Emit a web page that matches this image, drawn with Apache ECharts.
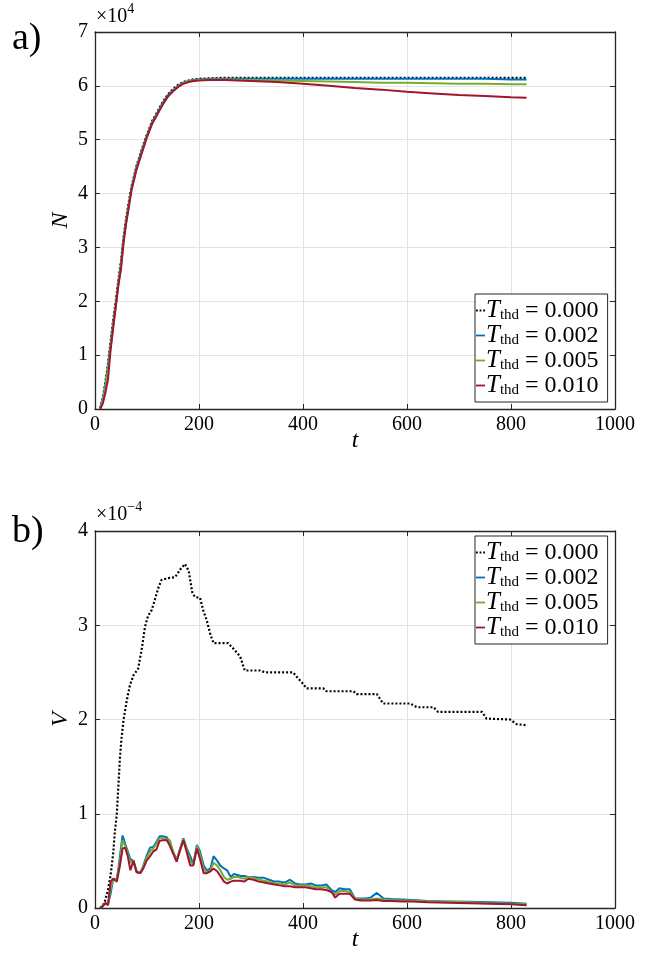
<!DOCTYPE html>
<html>
<head>
<meta charset="utf-8">
<script src="https://cdn.jsdelivr.net/npm/echarts@6/dist/echarts.min.js"></script>
<style>html,body{margin:0;padding:0;background:#fff}#c{width:652px;height:964px}</style>
</head>
<body>
<div id="c"></div>
<script>
// ---------- DATA ----------
const seriesNames = ['0.000', '0.002', '0.005', '0.010'];
const xTicks = [0, 200, 400, 600, 800, 1000];

// Panel a: N (x 10^4) vs t
const tN = [10,15,20,25,30,35,40,45,50,55,60,65,70,80,90,100,110,120,130,140,150,160,170,180,190,200,220,250,300,350,400,450,500,550,600,650,700,750,800,830];
const N0  = [0.02,0.2,0.5,0.85,1.25,1.65,2.0,2.4,2.75,3.2,3.55,3.85,4.12,4.52,4.82,5.1,5.35,5.52,5.7,5.84,5.94,6.02,6.07,6.1,6.12,6.13,6.14,6.15,6.15,6.15,6.15,6.15,6.15,6.15,6.15,6.15,6.15,6.15,6.15,6.15];
const N2  = [0.02,0.18,0.45,0.8,1.2,1.6,1.95,2.35,2.7,3.15,3.5,3.8,4.1,4.5,4.8,5.08,5.33,5.5,5.68,5.82,5.92,6.0,6.06,6.09,6.11,6.12,6.13,6.13,6.13,6.13,6.13,6.13,6.13,6.13,6.13,6.13,6.13,6.13,6.12,6.12];
const N5  = [0.01,0.15,0.4,0.75,1.15,1.55,1.92,2.32,2.65,3.12,3.47,3.78,4.07,4.47,4.77,5.06,5.31,5.48,5.66,5.8,5.9,5.99,6.05,6.08,6.1,6.11,6.12,6.12,6.11,6.1,6.09,6.08,6.07,6.06,6.06,6.05,6.04,6.04,6.03,6.03];
const N10 = [0.0,0.1,0.3,0.55,1.1,1.5,1.9,2.3,2.6,3.1,3.45,3.75,4.05,4.45,4.75,5.05,5.3,5.47,5.65,5.8,5.9,5.98,6.04,6.07,6.09,6.1,6.11,6.11,6.09,6.07,6.04,6.0,5.96,5.93,5.89,5.86,5.83,5.81,5.79,5.78];

// Panel b: V (x 10^-4) vs t
const tV0 = [10,18,25,30,35,38,42,45,48,51,55,61,67,74,83,90,96,102,109,115,122,128,140,154,165,173,180,187,192,202,208,215,222,228,256,268,279,288,317,327,381,390,400,407,439,445,497,503,542,554,606,619,651,660,744,753,798,811,830];
const V0  = [0,0.05,0.19,0.35,0.58,0.8,1.0,1.3,1.6,1.8,2.0,2.2,2.36,2.47,2.54,2.75,2.98,3.1,3.16,3.27,3.4,3.48,3.5,3.51,3.6,3.65,3.58,3.35,3.3,3.29,3.16,3.05,2.9,2.81,2.81,2.74,2.67,2.52,2.52,2.5,2.5,2.44,2.38,2.33,2.33,2.3,2.3,2.27,2.27,2.17,2.17,2.13,2.13,2.08,2.08,2.01,2.0,1.95,1.94];

const tV = [10,15,20,25,30,35,42,48,53,58,63,68,74,80,87,93,99,106,112,118,124,131,138,144,150,157,163,170,176,183,189,196,202,209,215,222,228,235,241,248,254,261,267,274,280,287,295,305,315,325,335,345,355,365,375,385,395,405,415,425,435,445,455,462,470,480,490,500,510,520,530,542,555,570,590,610,640,680,720,760,800,830];
const V2  = [0,0.02,0.05,0.04,0.15,0.31,0.3,0.55,0.77,0.68,0.6,0.52,0.5,0.39,0.37,0.45,0.55,0.64,0.65,0.7,0.76,0.76,0.75,0.7,0.6,0.51,0.62,0.74,0.64,0.55,0.47,0.67,0.6,0.45,0.4,0.42,0.55,0.5,0.45,0.42,0.4,0.33,0.36,0.35,0.34,0.34,0.33,0.33,0.32,0.32,0.3,0.28,0.28,0.27,0.3,0.26,0.25,0.25,0.26,0.24,0.24,0.25,0.19,0.17,0.21,0.2,0.2,0.1,0.1,0.1,0.11,0.16,0.1,0.095,0.09,0.085,0.075,0.07,0.065,0.06,0.055,0.045];
const V5  = [0,0.02,0.05,0.04,0.2,0.31,0.3,0.5,0.72,0.66,0.58,0.48,0.5,0.38,0.37,0.44,0.53,0.6,0.63,0.68,0.74,0.74,0.73,0.72,0.6,0.5,0.61,0.73,0.63,0.5,0.46,0.66,0.57,0.41,0.38,0.4,0.48,0.45,0.4,0.33,0.3,0.31,0.33,0.33,0.32,0.31,0.33,0.32,0.3,0.29,0.28,0.26,0.26,0.25,0.27,0.24,0.24,0.24,0.23,0.22,0.22,0.22,0.17,0.14,0.18,0.18,0.17,0.1,0.09,0.09,0.09,0.1,0.09,0.085,0.08,0.08,0.07,0.065,0.06,0.05,0.045,0.04];
const V10 = [0,0.02,0.05,0.03,0.28,0.31,0.28,0.45,0.63,0.64,0.55,0.4,0.5,0.38,0.37,0.42,0.5,0.55,0.6,0.62,0.71,0.72,0.72,0.66,0.58,0.49,0.6,0.72,0.6,0.45,0.45,0.63,0.52,0.37,0.37,0.39,0.42,0.39,0.34,0.28,0.26,0.28,0.29,0.29,0.29,0.28,0.31,0.3,0.28,0.27,0.26,0.25,0.24,0.23,0.23,0.22,0.22,0.22,0.21,0.2,0.2,0.19,0.17,0.11,0.15,0.15,0.15,0.09,0.08,0.08,0.08,0.085,0.075,0.075,0.07,0.07,0.06,0.055,0.05,0.045,0.04,0.03];

// ---------- CHART ----------
const FONT = 'Liberation Serif';
const AX = '#262626';
const colors = ['#000000', '#0072BD', '#77AC30', '#A2142F'];
const zip = (xs, ys) => xs.map((x, i) => [x, ys[i]]);

function xAx(gi, bottom) {
  return {
    type: 'value', gridIndex: gi, min: 0, max: 1000, interval: 200,
    position: bottom ? 'bottom' : 'top',
    name: bottom ? 't' : '', nameLocation: 'middle', nameGap: 20, nameMoveOverlap: false,
    nameTextStyle: {fontFamily: FONT, fontStyle: 'italic', fontSize: 24, color: '#000'},
    axisLine: {show: true, onZero: false, lineStyle: {color: AX, width: 1.3}},
    axisTick: {show: true, inside: true, length: 5, lineStyle: {color: AX}},
    axisLabel: {show: bottom, fontFamily: FONT, fontSize: 20, color: '#000', margin: 6, formatter: v => String(v)},
    splitLine: {show: bottom, lineStyle: {color: '#e3e3e3', width: 1}}
  };
}
function yAx(gi, left, max, name) {
  return {
    type: 'value', gridIndex: gi, min: 0, max: max, interval: 1,
    position: left ? 'left' : 'right',
    name: left ? name : '', nameLocation: 'middle', nameGap: 22, nameRotate: 90, nameMoveOverlap: false,
    nameTextStyle: {fontFamily: FONT, fontStyle: 'italic', fontSize: 24, color: '#000'},
    axisLine: {show: true, onZero: false, lineStyle: {color: AX, width: 1.3}},
    axisTick: {show: true, inside: true, length: 5, lineStyle: {color: AX}},
    axisLabel: {show: left, fontFamily: FONT, fontSize: 20, color: '#000', margin: 7},
    splitLine: {show: left, lineStyle: {color: '#e3e3e3', width: 1}}
  };
}

const legendRich = {
  i: {fontFamily: FONT, fontStyle: 'italic', fontSize: 25, color: '#000', lineHeight: 27},
  s: {fontFamily: FONT, fontSize: 15, color: '#000', lineHeight: 27, padding: [10, 0, 0, 0]},
  n: {fontFamily: FONT, fontSize: 24, color: '#000', lineHeight: 27}
};
const solidIcon = 'path://M0,0h10v2h-10z';
const dotIcon = 'path://M0,0h2v2h-2zM4,0h2v2h-2zM8,0h2v2h-2z';
function legend(top) {
  return {
    data: seriesNames.map((n, i) => ({name: n, icon: i === 0 ? dotIcon : solidIcon, itemStyle: {color: colors[i]}})),
    orient: 'vertical', left: 475, top: top, itemWidth: 9, itemHeight: 2, itemGap: 0,
    padding: [4, 9, 4, 1], borderColor: '#262626', borderWidth: 1, backgroundColor: '#fff',
    selectedMode: false,
    formatter: n => '{i|T}{s|thd}{n| = ' + n + '}',
    textStyle: {rich: legendRich, padding: [0, 0, 0, -4]}
  };
}

function mkSeries(name, idx, gi, data) {
  return {
    name: name, type: 'line', xAxisIndex: gi * 2, yAxisIndex: gi * 2, data: data,
    symbol: 'none', showSymbol: false, smooth: false, z: 2 + idx,
    lineStyle: {color: colors[idx], width: idx === 0 ? 2.2 : 2, type: idx === 0 ? [2, 2] : 'solid', cap: 'butt'},
    itemStyle: {color: colors[idx]}
  };
}

const chart = echarts.init(document.getElementById('c'), null, {renderer: 'canvas'});
chart.setOption({
  animation: false,
  backgroundColor: '#fff',
  grid: [
    {left: 95, top: 32, width: 520, height: 377},
    {left: 95, top: 531, width: 520, height: 377}
  ],
  xAxis: [xAx(0, true), xAx(0, false), xAx(1, true), xAx(1, false)],
  yAxis: [yAx(0, true, 7, 'N'), yAx(0, false, 7, ''), yAx(1, true, 4, 'V'), yAx(1, false, 4, '')],
  legend: [legend(294), legend(536)],
  series: [
    mkSeries(seriesNames[0], 0, 0, zip(tN, N0)),
    mkSeries(seriesNames[1], 1, 0, zip(tN, N2)),
    mkSeries(seriesNames[2], 2, 0, zip(tN, N5)),
    mkSeries(seriesNames[3], 3, 0, zip(tN, N10)),
    mkSeries(seriesNames[0], 0, 1, zip(tV0, V0)),
    mkSeries(seriesNames[1], 1, 1, zip(tV, V2)),
    mkSeries(seriesNames[2], 2, 1, zip(tV, V5)),
    mkSeries(seriesNames[3], 3, 1, zip(tV, V10))
  ],
  graphic: [
    {type: 'text', left: 12, top: 20, style: {text: 'a)', fontFamily: FONT, fontSize: 38, fill: '#000'}},
    {type: 'text', left: 12, top: 513, style: {text: 'b)', fontFamily: FONT, fontSize: 38, fill: '#000'}},
    {type: 'text', left: 96, top: 2, style: {text: '{a|×10}{b|4}', rich: {a: {fontFamily: FONT, fontSize: 20, fill: '#000', padding: [7, 0, 0, 0]}, b: {fontFamily: FONT, fontSize: 14, fill: '#000', padding: [0, 0, 8, 0]}}}},
    {type: 'text', left: 96, top: 500, style: {text: '{a|×10}{b|−4}', rich: {a: {fontFamily: FONT, fontSize: 20, fill: '#000', padding: [7, 0, 0, 0]}, b: {fontFamily: FONT, fontSize: 14, fill: '#000', padding: [0, 0, 8, 0]}}}}
  ]
});
</script>
</body>
</html>
